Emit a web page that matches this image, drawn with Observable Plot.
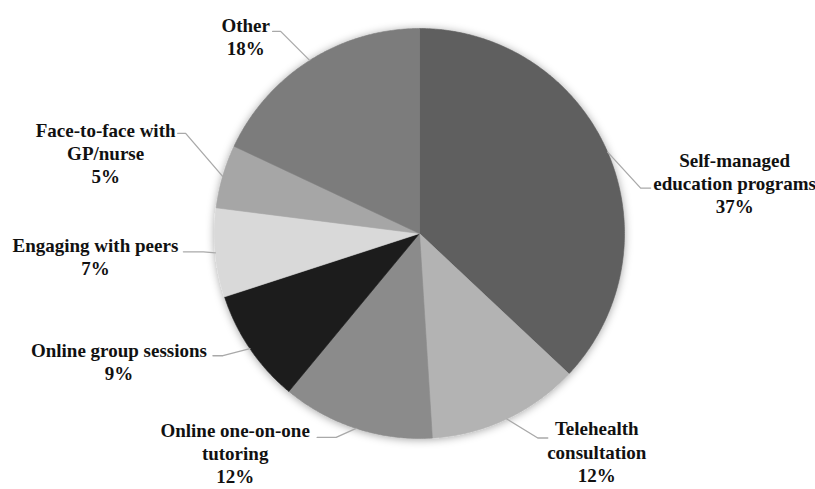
<!DOCTYPE html>
<html>
<head>
<meta charset="utf-8">
<script src="https://cdn.jsdelivr.net/npm/d3@7"></script>
<script src="https://cdn.jsdelivr.net/npm/@observablehq/plot@0.6"></script>
<style>
  html, body { margin: 0; padding: 0; background: #fff; }
  #chart svg text { font-family: "Liberation Serif", "DejaVu Serif", serif !important; }
</style>
</head>
<body>
<div id="chart"></div>
<script>
// ---- data ----
const categories = [
  "Self-managed education programs",
  "Telehealth consultation",
  "Online one-on-one tutoring",
  "Online group sessions",
  "Engaging with peers",
  "Face-to-face with GP/nurse",
  "Other"
];
const labelTexts = [
  "Self-managed\neducation programs\n37%",
  "Telehealth\nconsultation\n12%",
  "Online one-on-one\ntutoring\n12%",
  "Online group sessions\n9%",
  "Engaging with peers\n7%",
  "Face-to-face with\nGP/nurse\n5%",
  "Other\n18%"
];
const shares = [37, 12, 12, 9, 7, 5, 18];

// ---- styles / layout (pixels, relative to the slice edge at mid-angle) ----
const sliceColors = ["#5e5e5e", "#b3b3b3", "#8b8b8b", "#1e1e1e", "#d9d9d9", "#a6a6a6", "#7c7c7c"];
const leaderElbow = [[33, 36], [31, 19], [-20, 9], [-27, 7], [-12, -1], [-37, -43], [-29, -29]];
const leaderEnd   = [[43, 36], [41, 19], [-39, 9], [-37, 7], [-32, -1], [-45, -43], [-37, -29]];
const labelOffset = [[127, -2], [90, 0], [-121, -8], [-131, -8], [-120, -17], [-117, -56], [-64, -45]];

const R = 205; // pixels per data unit (pie radius)
const mL = 214, mT = 28, W = 815, H = 489;

const arcs = d3.pie().sort(null).value(d => d)(shares);

// slice polygons
const slicePts = [];
arcs.forEach((a, i) => {
  slicePts.push({k: i, x: 0, y: 0});
  const step = Math.PI / 360;
  for (let t = a.startAngle; t < a.endAngle; t += step) {
    slicePts.push({k: i, x: Math.sin(t), y: Math.cos(t)});
  }
  slicePts.push({k: i, x: Math.sin(a.endAngle), y: Math.cos(a.endAngle)});
  slicePts.push({k: i, x: 0, y: 0});
});

// leader lines & labels
const leaderPts = [];
const labels = [];
arcs.forEach((a, i) => {
  const m = (a.startAngle + a.endAngle) / 2;
  const px = Math.sin(m), py = Math.cos(m);
  leaderPts.push({k: i, x: px, y: py});
  leaderPts.push({k: i, x: px + leaderElbow[i][0] / R, y: py - leaderElbow[i][1] / R});
  leaderPts.push({k: i, x: px + leaderEnd[i][0] / R, y: py - leaderEnd[i][1] / R});
  labels.push({
    text: labelTexts[i],
    x: px + labelOffset[i][0] / R,
    y: py - labelOffset[i][1] / R
  });
});

const plot = Plot.plot({
  width: W,
  height: H,
  marginLeft: mL,
  marginRight: W - mL - 2 * R,
  marginTop: mT,
  marginBottom: H - mT - 2 * R,
  x: {domain: [-1, 1], axis: null},
  y: {domain: [-1, 1], axis: null},
  color: {type: "identity"},
  style: {background: "#fff", fontFamily: "Liberation Serif"},
  marks: [
    Plot.line(slicePts, {
      x: "x", y: "y", z: "k",
      fill: d => sliceColors[d.k],
      stroke: d => sliceColors[d.k],
      strokeWidth: 0.6,
      curve: "linear"
    }),
    Plot.line(leaderPts, {
      x: "x", y: "y", z: "k",
      stroke: "#a9a9a9", strokeWidth: 1.3, curve: "linear"
    }),
    Plot.text(labels, {
      x: "x", y: "y", text: "text",
      textAnchor: "middle", lineAnchor: "top", lineHeight: 1.22,
      fontSize: 19, fontWeight: "bold",
      fontFamily: "Liberation Serif",
      fill: "#111"
    })
  ]
});

// soft shadow round the pie
const ns = "http://www.w3.org/2000/svg";
const defs = document.createElementNS(ns, "defs");
defs.innerHTML = '<filter id="pieShadow" x="-20%" y="-20%" width="140%" height="140%">' +
  '<feDropShadow dx="0" dy="1" stdDeviation="4" flood-color="#000" flood-opacity="0.35"/></filter>';
plot.insertBefore(defs, plot.firstChild);
const sliceGroup = plot.querySelector('g[aria-label="line"]');
if (sliceGroup) sliceGroup.setAttribute("filter", "url(#pieShadow)");
plot.querySelectorAll("text").forEach(t => t.style.fontFamily = '"Liberation Serif", serif');

document.getElementById("chart").appendChild(plot);
</script>
</body>
</html>
